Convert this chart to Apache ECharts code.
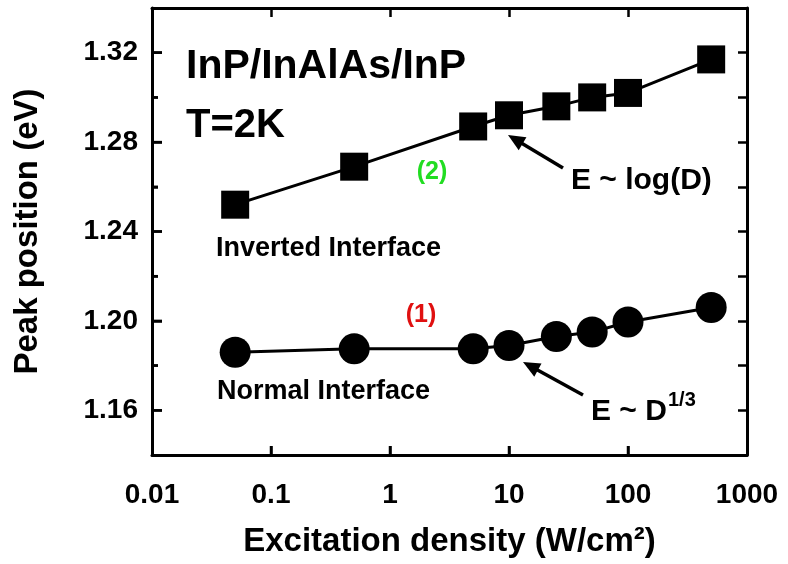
<!DOCTYPE html>
<html>
<head>
<meta charset="utf-8">
<script src="https://cdn.jsdelivr.net/npm/echarts@6/dist/echarts.min.js"></script>
<style>html,body{margin:0;padding:0;background:#fff}#c{width:788px;height:564px}</style>
</head>
<body>
<div id="c"></div>
<script>
// ---- data ----
const densities = [0.05, 0.5, 5, 10, 25, 50, 100, 500];           // W/cm^2
const invertedPeak = [1.252, 1.269, 1.287, 1.292, 1.296, 1.300, 1.302, 1.317]; // eV, squares
const normalPeak = [1.186, 1.1875, 1.1875, 1.189, 1.193, 1.195, 1.1995, 1.206]; // eV, circles
const xTickLabels = ['0.01', '0.1', '1', '10', '100', '1000'];
const xTickValues = [0.1, 1, 10, 100];
const yTickLabels = [1.16, 1.20, 1.24, 1.28, 1.32];
const yMinorTicks = [1.18, 1.22, 1.26, 1.30];
const yAllTicks = [1.16, 1.18, 1.20, 1.22, 1.24, 1.26, 1.28, 1.30, 1.32];

const FONT = 'Liberation Sans, Arial, Helvetica, sans-serif';
const chart = echarts.init(document.getElementById('c'));

function pairs(ys) { return densities.map((d, i) => [d, ys[i]]); }

function arrow(tip, tail) {
  const dx = tip[0] - tail[0], dy = tip[1] - tail[1];
  const L = Math.hypot(dx, dy), ux = dx / L, uy = dy / L;
  const hl = 17, hw = 7.5;
  const bx = tip[0] - ux * hl, by = tip[1] - uy * hl;
  const px = -uy * hw, py = ux * hw;
  return [
    { type: 'line', shape: { x1: tail[0], y1: tail[1], x2: bx + ux * 2, y2: by + uy * 2 },
      style: { stroke: '#000', lineWidth: 3.5 } },
    { type: 'polygon', shape: { points: [tip, [bx + px, by + py], [bx - px, by - py]] },
      style: { fill: '#000' } }
  ];
}

const txt = (x, y, text, size, color, align) => ({
  type: 'text', x: x, y: y,
  style: { text: text, font: 'bold ' + size + 'px ' + FONT, fill: color || '#000',
           align: align || 'left', verticalAlign: 'middle' }
});

const tickStyle = { color: '#000', width: 2.5 };

const option = {
  backgroundColor: '#fff',
  animation: false,
  grid: { left: 152, top: 8, right: 41, bottom: 109 },
  xAxis: [
    {
      type: 'log', logBase: 10, min: 0.01, max: 1000, position: 'bottom',
      axisLine: { show: true, onZero: false, lineStyle: { color: '#000', width: 3 } },
      axisTick: { show: true, inside: true, length: 9, lineStyle: tickStyle },
      minorTick: { show: false },
      splitLine: { show: false },
      axisLabel: {
        margin: 26, color: '#000', fontFamily: FONT, fontWeight: 'bold', fontSize: 28,
        formatter: v => xTickLabels[Math.round(Math.log10(v)) + 2]
      },
      name: 'Excitation density (W/cm²)', nameLocation: 'middle', nameGap: 70,
      nameTextStyle: { color: '#000', fontFamily: FONT, fontWeight: 'bold', fontSize: 33 }
    },
    {
      type: 'log', logBase: 10, min: 0.01, max: 1000, position: 'top',
      axisLine: { show: true, onZero: false, lineStyle: { color: '#000', width: 3 } },
      axisTick: { show: true, inside: true, length: 9, customValues: xTickValues, lineStyle: tickStyle },
      axisLabel: { show: false }, splitLine: { show: false }
    }
  ],
  yAxis: [
    {
      type: 'value', min: 1.14, max: 1.34, interval: 0.02, position: 'left',
      axisLine: { show: true, onZero: false, lineStyle: { color: '#000', width: 3 } },
      axisTick: { show: true, inside: true, length: 10, customValues: yTickLabels, lineStyle: tickStyle },
      splitLine: { show: false },
      axisLabel: {
        margin: 14, color: '#000', fontFamily: FONT, fontWeight: 'bold', fontSize: 28,
        customValues: yTickLabels,
        formatter: v => Number(v).toFixed(2)
      },
      name: 'Peak position (eV)', nameLocation: 'middle', nameGap: 108,
      nameTextStyle: { color: '#000', fontFamily: FONT, fontWeight: 'bold', fontSize: 33 }
    },
    {
      type: 'value', min: 1.14, max: 1.34, interval: 0.02, position: 'left',
      axisLine: { show: false, onZero: false },
      axisTick: { show: true, inside: true, length: 6, customValues: yMinorTicks, lineStyle: tickStyle },
      axisLabel: { show: false }, splitLine: { show: false }
    },
    {
      type: 'value', min: 1.14, max: 1.34, interval: 0.02, position: 'right',
      axisLine: { show: true, onZero: false, lineStyle: { color: '#000', width: 3 } },
      axisTick: { show: true, inside: true, length: 9, customValues: yAllTicks, lineStyle: tickStyle },
      axisLabel: { show: false }, splitLine: { show: false }
    }
  ],
  series: [
    {
      name: 'Inverted Interface', type: 'line', xAxisIndex: 0, yAxisIndex: 0,
      data: pairs(invertedPeak), symbol: 'rect', symbolSize: 28,
      lineStyle: { color: '#000', width: 3 }, itemStyle: { color: '#000' }
    },
    {
      name: 'Normal Interface', type: 'line', xAxisIndex: 0, yAxisIndex: 0,
      data: pairs(normalPeak), symbol: 'circle', symbolSize: 31,
      lineStyle: { color: '#000', width: 3 }, itemStyle: { color: '#000' }
    }
  ]
};
chart.setOption(option);

// reinforce bottom and left ticks, positioned through the axes' own scales
const tickGraphics = [];
const yBottom = chart.convertToPixel({ yAxisIndex: 0 }, 1.14);
const xLeft = chart.convertToPixel({ xAxisIndex: 0 }, 0.01);
xTickValues.forEach(v => {
  const px = chart.convertToPixel({ xAxisIndex: 0 }, v);
  tickGraphics.push({ type: 'line', z: 10, shape: { x1: px, y1: yBottom, x2: px, y2: yBottom - 9 },
    style: { stroke: '#000', lineWidth: 2.5 } });
});
yAllTicks.forEach(v => {
  const py = chart.convertToPixel({ yAxisIndex: 0 }, v);
  const len = yTickLabels.some(t => Math.abs(t - v) < 1e-9) ? 10 : 6;
  tickGraphics.push({ type: 'line', z: 10, shape: { x1: xLeft, y1: py, x2: xLeft + len, y2: py },
    style: { stroke: '#000', lineWidth: 2.5 } });
});

chart.setOption({
  graphic: [
    ...tickGraphics,
    txt(186, 67, 'InP/InAlAs/InP', 41),
    txt(186, 126, 'T=2K', 40),
    txt(216, 249, 'Inverted Interface', 27),
    txt(217, 392, 'Normal Interface', 27),
    txt(432, 172, '(2)', 25, '#22dd22', 'center'),
    txt(421, 315, '(1)', 25, '#e01010', 'center'),
    txt(571, 181, 'E ~ log(D)', 30),
    txt(591, 412, 'E ~ D', 30),
    txt(668, 400, '1/3', 20),
    ...arrow([508, 135], [563, 168]),
    ...arrow([523, 362], [583, 395])
  ]
});
</script>
</body>
</html>
